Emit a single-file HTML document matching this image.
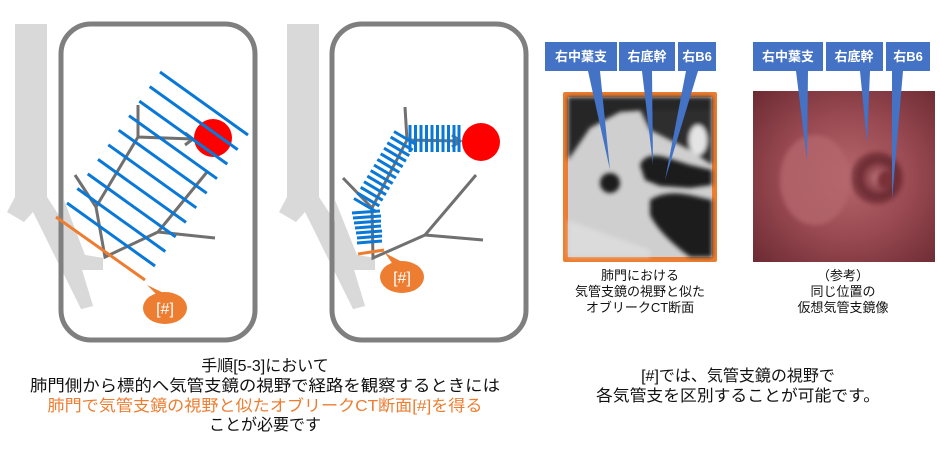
<!DOCTYPE html>
<html><head><meta charset="utf-8"><style>
html,body{margin:0;padding:0;background:#fff;width:940px;height:455px;overflow:hidden}
svg{display:block}
text{font-family:"Liberation Sans","Noto Sans CJK JP",sans-serif}
</style></head><body>
<svg width="940" height="455" viewBox="0 0 940 455" xmlns="http://www.w3.org/2000/svg">
<defs>
<radialGradient id="vb" cx="0.52" cy="0.5" r="0.7">
<stop offset="0" stop-color="#b5676c"/><stop offset="0.5" stop-color="#9a4a52"/><stop offset="1" stop-color="#6e2c34"/>
</radialGradient>
<radialGradient id="hole" cx="0.5" cy="0.5" r="0.5">
<stop offset="0" stop-color="#c27a7f"/><stop offset="0.6" stop-color="#8e434b"/><stop offset="1" stop-color="#5e2229"/>
</radialGradient>
<filter id="bl"><feGaussianBlur stdDeviation="2"/></filter>
</defs>

<!-- Panel 1 -->
<polygon points="15,24 47,24 47,197 85,255 103,258 103,270 82,270 93,306 81,309 33,212 24,222 7,212 15,197" fill="#d9d9d9"/>
<rect x="61" y="24" width="194" height="316" rx="30" fill="none" stroke="#7f7f7f" stroke-width="5"/>
<polygon points="15,24 47,24 47,197 85,255 103,258 103,270 82,270 93,306 81,309 33,212 24,222 7,212 15,197" fill="#d9d9d9" opacity="0" />
<path d="M64,200 L85,255 103,258 103,270 82,270 93,306 81,309 64,260Z" fill="#d9d9d9"/>
<g stroke="#707070" stroke-width="3" fill="none">
<path d="M138,105 L138,137 L193,139"/>
<path d="M185,133 L193,139 L185,145"/>
<path d="M138,137 L96,207 L75,175"/>
<path d="M96,207 L105,257 L158,232 L207,172"/>
<path d="M158,232 L215,238"/>
</g>
<circle cx="213" cy="138" r="19" fill="#ff0000"/>
<g stroke="#0a78d7" stroke-width="3">
<line x1="160" y1="72" x2="248" y2="135"/>
<line x1="149.7" y1="86.6" x2="237.7" y2="149.6"/>
<line x1="139.3" y1="101.1" x2="227.3" y2="164.1"/>
<line x1="129" y1="115.7" x2="217" y2="178.7"/>
<line x1="118.7" y1="130.2" x2="206.7" y2="193.2"/>
<line x1="108.3" y1="144.8" x2="196.3" y2="207.8"/>
<line x1="98" y1="159.4" x2="186" y2="222.4"/>
<line x1="87.7" y1="173.9" x2="175.7" y2="236.9"/>
<line x1="77.3" y1="188.5" x2="165.3" y2="251.5"/>
<line x1="67" y1="203" x2="155" y2="266"/>
</g>
<line x1="56" y1="217" x2="145" y2="280" stroke="#ed7d31" stroke-width="3"/>
<path d="M147,285 L158,296 L170,296Z" fill="#ed7d31"/>
<ellipse cx="165" cy="308" rx="22" ry="16" fill="#ed7d31"/>
<text x="165" y="314" font-size="16" fill="#fff" text-anchor="middle">[#]</text>

<!-- Panel 2 -->
<polygon points="287,24 319,24 319,197 357,255 375,258 375,270 354,270 365,306 353,309 305,212 296,222 279,212 287,197" fill="#d9d9d9"/>
<rect x="332" y="24" width="194" height="316" rx="30" fill="none" stroke="#7f7f7f" stroke-width="5"/>
<path d="M335,200 L357,255 375,258 375,270 354,270 365,306 353,309 335,262Z" fill="#d9d9d9"/>
<g stroke="#707070" stroke-width="3" fill="none">
<path d="M405,107 L407,140 L460,141"/>
<path d="M452,135 L460,141 L452,147"/>
<path d="M407,140 L372,208 L343,178"/>
<path d="M372,208 L373,258 L425,235 L476,175"/>
<path d="M425,235 L483,240"/>
</g>
<circle cx="481" cy="142" r="19" fill="#ff0000"/>
<g stroke="#0a78d7" stroke-width="3">
<line x1="410" y1="125" x2="410" y2="152"/><line x1="415.5" y1="125" x2="415.5" y2="152"/>
<line x1="421" y1="125" x2="421" y2="152"/><line x1="426.5" y1="125" x2="426.5" y2="152"/>
<line x1="432" y1="125" x2="432" y2="152"/><line x1="437.5" y1="125" x2="437.5" y2="152"/>
<line x1="443" y1="125" x2="443" y2="152"/><line x1="448.5" y1="125" x2="448.5" y2="152"/>
<line x1="454" y1="125" x2="454" y2="152"/><line x1="459" y1="125" x2="459" y2="152"/>
<line x1="394" y1="131.5" x2="416" y2="144.5"/>
<line x1="390.7" y1="137.1" x2="412.7" y2="150.1"/>
<line x1="387.3" y1="142.7" x2="409.3" y2="155.7"/>
<line x1="384" y1="148.2" x2="406" y2="161.2"/>
<line x1="380.7" y1="153.8" x2="402.7" y2="166.8"/>
<line x1="377.3" y1="159.4" x2="399.3" y2="172.4"/>
<line x1="374" y1="165" x2="396" y2="178"/>
<line x1="370.7" y1="170.6" x2="392.7" y2="183.6"/>
<line x1="367.3" y1="176.1" x2="389.3" y2="189.1"/>
<line x1="364" y1="181.7" x2="386" y2="194.7"/>
<line x1="360.7" y1="187.3" x2="382.7" y2="200.3"/>
<line x1="357.3" y1="192.9" x2="379.3" y2="205.9"/>
<line x1="354" y1="198.5" x2="376" y2="211.5"/>
<line x1="352" y1="213" x2="380" y2="211"/>
<line x1="353" y1="218" x2="381" y2="216"/>
<line x1="354" y1="223" x2="381" y2="221"/>
<line x1="355" y1="228" x2="381" y2="226"/>
<line x1="356" y1="233" x2="382" y2="231"/>
<line x1="357" y1="238" x2="382" y2="236"/>
<line x1="357" y1="243" x2="382" y2="241"/>
</g>
<line x1="358" y1="254" x2="384" y2="250" stroke="#ed7d31" stroke-width="3"/>
<path d="M385,253 L394,266 L406,264Z" fill="#ed7d31"/>
<ellipse cx="402" cy="277" rx="22" ry="16" fill="#ed7d31"/>
<text x="402" y="283" font-size="16" fill="#fff" text-anchor="middle">[#]</text>

<!-- CT image -->
<rect x="563" y="92" width="154" height="170" fill="#ed7d31" rx="2"/>
<rect x="568" y="97" width="144" height="160" fill="#cfcfcf"/>
<g filter="url(#bl)">
<path d="M568,97 L712,97 L712,130 L690,118 L650,110 L620,112 L590,128 L575,150 L568,160Z" fill="#262626"/>
<path d="M640,110 L712,110 L712,165 L690,150 L670,140 L650,130Z" fill="#2e2e2e"/>
<ellipse cx="698" cy="140" rx="9" ry="15" fill="#e4e4e4"/>
<circle cx="610" cy="183" r="10" fill="#1e1e1e"/>
<path d="M640,165 Q645,152 665,157 L690,165 L712,170 L712,185 L690,188 L660,186 L645,180Z" fill="#1f1f1f"/>
<path d="M650,200 Q665,190 690,195 L712,200 L712,257 L690,257 Q660,235 650,215Z" fill="#1f1f1f"/>
<path d="M568,220 L650,250 L650,257 L568,257Z" fill="#e0e0e0" opacity="0.7"/>
</g>

<!-- VB image -->
<rect x="753" y="91" width="182" height="171" fill="url(#vb)"/>
<g filter="url(#bl)">
<ellipse cx="815" cy="180" rx="35" ry="45" fill="#b4676d" opacity="0.8"/>
<circle cx="877" cy="178" r="26" fill="#5e2229" opacity="0.6"/>
<circle cx="878" cy="178" r="20" fill="url(#hole)"/>
<circle cx="886" cy="180" r="9" fill="#7a3038"/>
</g>

<!-- labels -->
<g fill="#4472c4">
<polygon points="588,71 600,71 610,170"/>
<polygon points="642,71 652,71 653,165"/>
<polygon points="686,71 698,71 665,180"/>
<polygon points="796,71 808,71 807,160"/>
<polygon points="860,71 870,71 867,143"/>
<polygon points="892,71 903,71 892,200"/>
<rect x="545" y="42" width="72" height="29"/>
<rect x="619" y="42" width="56" height="29"/>
<rect x="678" y="42" width="38" height="29"/>
<rect x="753" y="42" width="70" height="29"/>
<rect x="826" y="42" width="57" height="29"/>
<rect x="886" y="42" width="44" height="29"/>
</g>
<g fill="#fff" font-size="13" text-anchor="middle" font-weight="bold">
<text x="581" y="61">右中葉支</text>
<text x="647" y="61">右底幹</text>
<text x="697" y="61">右B6</text>
<text x="788" y="61">右中葉支</text>
<text x="854" y="61">右底幹</text>
<text x="908" y="61">右B6</text>
</g>

<g font-size="13" text-anchor="middle" fill="#111">
<text x="640" y="280">肺門における</text>
<text x="640" y="296">気管支鏡の視野と似た</text>
<text x="640" y="312">オブリークCT断面</text>
<text x="843" y="280">（参考）</text>
<text x="843" y="296">同じ位置の</text>
<text x="843" y="312">仮想気管支鏡像</text>
</g>

<g font-size="16" text-anchor="middle" fill="#111">
<text x="265" y="371">手順[5-3]において</text>
<text x="265" y="391" textLength="470" lengthAdjust="spacingAndGlyphs">肺門側から標的へ気管支鏡の視野で経路を観察するときには</text>
<text x="265" y="411" fill="#ed7d31" textLength="435" lengthAdjust="spacingAndGlyphs">肺門で気管支鏡の視野と似たオブリークCT断面[#]を得る</text>
<text x="265" y="430">ことが必要です</text>
<text x="738" y="381">[#]では、気管支鏡の視野で</text>
<text x="738" y="401" textLength="284" lengthAdjust="spacingAndGlyphs">各気管支を区別することが可能です。</text>
</g>
</svg>
</body></html>
